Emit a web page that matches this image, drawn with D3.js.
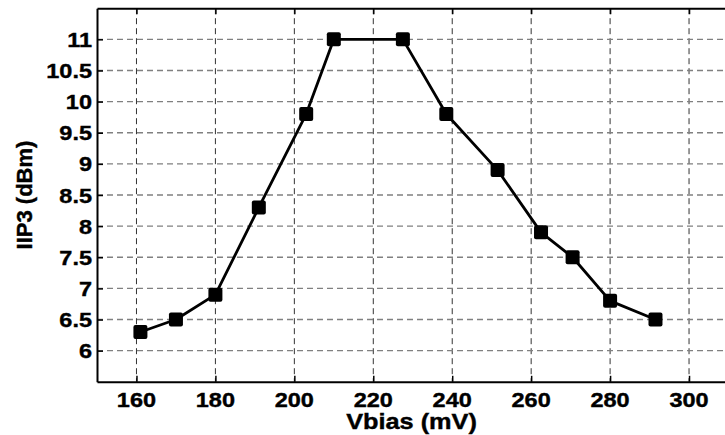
<!DOCTYPE html>
<html>
<head>
<meta charset="utf-8">
<script src="https://cdn.jsdelivr.net/npm/d3@7"></script>
<style>
  html, body { margin: 0; padding: 0; background: #fff; }
  svg { display: block; }
  text { font-family: "Liberation Sans", Arial, sans-serif; font-weight: bold; fill: #000; stroke: #000; stroke-width: 0.4px; }
</style>
</head>
<body>
<svg id="chart" width="725" height="435"></svg>
<script>
// Bias sweep: input-referred third-order intercept vs. bias voltage
const vbias = [161, 170, 180, 191, 203, 210, 227.5, 238.5, 251.5, 262.5, 270.5, 280, 291.5];
const iip3  = [6.3, 6.5, 6.9, 8.3, 9.8, 11, 11, 9.8, 8.9, 7.9, 7.5, 6.8, 6.5];
const xTicks = [160, 180, 200, 220, 240, 260, 280, 300];
const yTicks = [6, 6.5, 7, 7.5, 8, 8.5, 9, 9.5, 10, 10.5, 11];
const xTitle = "Vbias (mV)";
const yTitle = "IIP3 (dBm)";

const svg = d3.select("#chart");
const plotL = 97, plotT = 8.2, plotR = 728.5, plotB = 381.8;

const x = d3.scaleLinear().domain([150, 310]).range([plotL, plotR]);
const y = d3.scaleLinear().domain([5.5, 11.5]).range([plotB, plotT]);

// grid
const grid = svg.append("g");
grid.selectAll("line.gx").data(xTicks).enter().append("line")
  .attr("x1", d => x(d)).attr("x2", d => x(d))
  .attr("y1", plotT).attr("y2", plotB)
  .attr("stroke", "#333").attr("stroke-width", 1)
  .attr("stroke-dasharray", "6,4");
grid.selectAll("line.gy").data(yTicks).enter().append("line")
  .attr("x1", plotL).attr("x2", plotR)
  .attr("y1", d => y(d)).attr("y2", d => y(d))
  .attr("stroke", "#808080").attr("stroke-width", 1.4)
  .attr("stroke-dasharray", "6,4");

// axes (ticks point inward)
const axisStyle = g => {
  g.select(".domain").attr("stroke", "#000").attr("stroke-width", 2);
  g.selectAll(".tick line").attr("stroke", "#000").attr("stroke-width", 1.5);
  g.selectAll(".tick text").remove();
};
svg.append("g").attr("transform", `translate(0,${plotB})`)
  .call(d3.axisBottom(x).tickValues(xTicks).tickSizeInner(-6).tickSizeOuter(0))
  .call(axisStyle);
svg.append("g").attr("transform", `translate(0,${plotT})`)
  .call(d3.axisTop(x).tickValues(xTicks).tickSizeInner(-6).tickSizeOuter(0))
  .call(axisStyle);
svg.append("g").attr("transform", `translate(${plotL},0)`)
  .call(d3.axisLeft(y).tickValues(yTicks).tickSizeInner(-6).tickSizeOuter(0))
  .call(axisStyle);

// tick labels (wide bold digits)
const fmt = d3.format("~g");
svg.append("g").selectAll("text").data(xTicks).enter().append("text")
  .attr("transform", d => `translate(${x(d)},406.5) scale(1.12,1)`)
  .attr("text-anchor", "middle")
  .style("font-size", "21px")
  .text(d => fmt(d));
svg.append("g").selectAll("text").data(yTicks).enter().append("text")
  .attr("transform", d => `translate(92,${y(d) + 7.5}) scale(1.12,1)`)
  .attr("text-anchor", "end")
  .style("font-size", "21px")
  .text(d => fmt(d));

// axis titles
svg.append("text")
  .attr("transform", "translate(411.5,429) scale(1.15,1)")
  .attr("text-anchor", "middle")
  .style("font-size", "22px")
  .text(xTitle);
svg.append("text")
  .attr("transform", "translate(31.5,195) rotate(-90)")
  .attr("text-anchor", "middle")
  .style("font-size", "22px")
  .text(yTitle);

// data line and square markers
const pts = vbias.map((v, i) => [v, iip3[i]]);
svg.append("path")
  .datum(pts)
  .attr("fill", "none")
  .attr("stroke", "#000")
  .attr("stroke-width", 2.8)
  .attr("stroke-linejoin", "round")
  .attr("d", d3.line().x(d => x(d[0])).y(d => y(d[1])));
const ms = 14;
svg.append("g").selectAll("rect").data(pts).enter().append("rect")
  .attr("x", d => x(d[0]) - ms / 2)
  .attr("y", d => y(d[1]) - ms / 2)
  .attr("width", ms).attr("height", ms)
  .attr("rx", 2)
  .attr("fill", "#000");
</script>
</body>
</html>
